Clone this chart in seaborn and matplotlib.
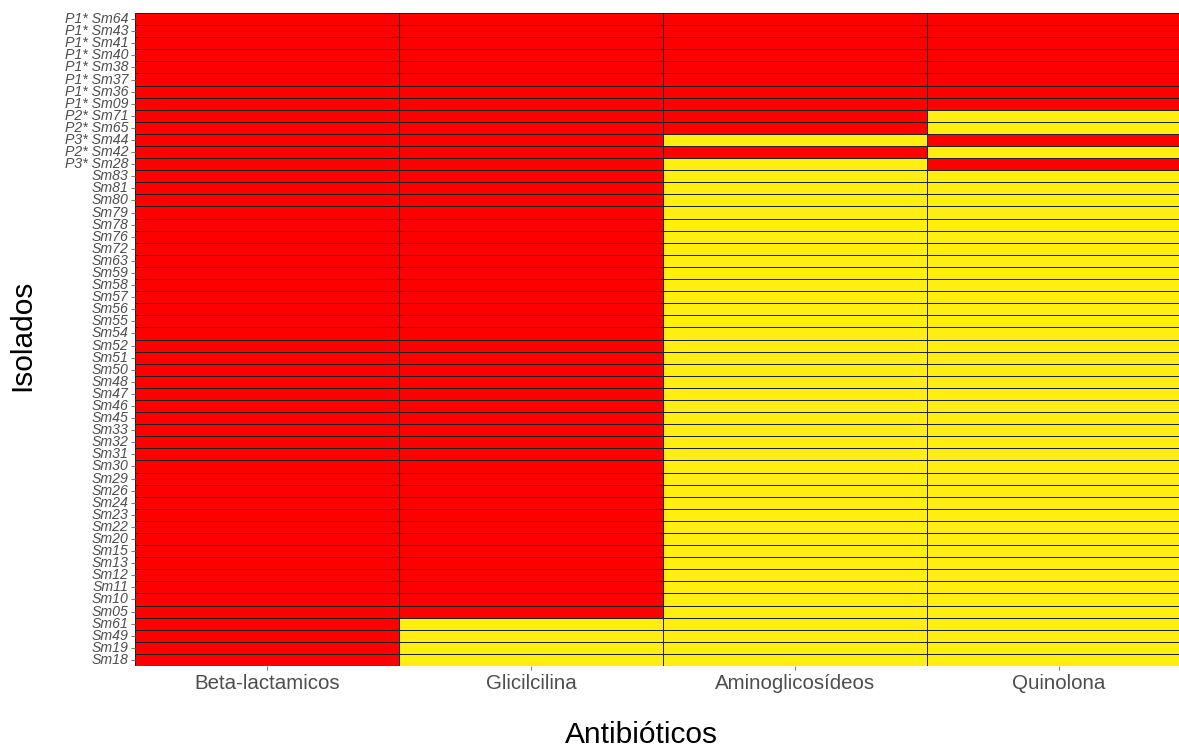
import matplotlib
matplotlib.use("Agg")
import matplotlib.pyplot as plt
import seaborn as sns
import pandas as pd
from matplotlib.colors import ListedColormap

antibioticos = ["Beta-lactamicos", "Glicilcilina", "Aminoglicosídeos", "Quinolona"]

isolados = ["P1* Sm64", "P1* Sm43", "P1* Sm41", "P1* Sm40", "P1* Sm38", "P1* Sm37",
            "P1* Sm36", "P1* Sm09", "P2* Sm71", "P2* Sm65", "P3* Sm44", "P2* Sm42",
            "P3* Sm28", "Sm83", "Sm81", "Sm80", "Sm79", "Sm78", "Sm76", "Sm72", "Sm63",
            "Sm59", "Sm58", "Sm57", "Sm56", "Sm55", "Sm54", "Sm52", "Sm51", "Sm50",
            "Sm48", "Sm47", "Sm46", "Sm45", "Sm33", "Sm32", "Sm31", "Sm30", "Sm29",
            "Sm26", "Sm24", "Sm23", "Sm22", "Sm20", "Sm15", "Sm13", "Sm12", "Sm11",
            "Sm10", "Sm05", "Sm61", "Sm49", "Sm19", "Sm18"]

# 1 = resistente (vermelho), 0 = sensível (amarelo)
beta_lactamicos = [1, 1, 1, 1, 1, 1, 1, 1, 1, 1, 1, 1, 1, 1, 1, 1, 1, 1,
                   1, 1, 1, 1, 1, 1, 1, 1, 1, 1, 1, 1, 1, 1, 1, 1, 1, 1,
                   1, 1, 1, 1, 1, 1, 1, 1, 1, 1, 1, 1, 1, 1, 1, 1, 1, 1]
glicilcilina = [1, 1, 1, 1, 1, 1, 1, 1, 1, 1, 1, 1, 1, 1, 1, 1, 1, 1,
                1, 1, 1, 1, 1, 1, 1, 1, 1, 1, 1, 1, 1, 1, 1, 1, 1, 1,
                1, 1, 1, 1, 1, 1, 1, 1, 1, 1, 1, 1, 1, 1, 0, 0, 0, 0]
aminoglicosideos = [1, 1, 1, 1, 1, 1, 1, 1, 1, 1, 0, 1, 0, 0, 0, 0, 0, 0,
                    0, 0, 0, 0, 0, 0, 0, 0, 0, 0, 0, 0, 0, 0, 0, 0, 0, 0,
                    0, 0, 0, 0, 0, 0, 0, 0, 0, 0, 0, 0, 0, 0, 0, 0, 0, 0]
quinolona = [1, 1, 1, 1, 1, 1, 1, 1, 0, 0, 1, 0, 1, 0, 0, 0, 0, 0,
             0, 0, 0, 0, 0, 0, 0, 0, 0, 0, 0, 0, 0, 0, 0, 0, 0, 0,
             0, 0, 0, 0, 0, 0, 0, 0, 0, 0, 0, 0, 0, 0, 0, 0, 0, 0]

df = pd.DataFrame({
    antibioticos[0]: beta_lactamicos,
    antibioticos[1]: glicilcilina,
    antibioticos[2]: aminoglicosideos,
    antibioticos[3]: quinolona,
}, index=isolados)

plt.rcParams['font.family'] = ['Liberation Sans', 'DejaVu Sans']

fig = plt.figure(figsize=(11.79, 7.48), dpi=100)
W, H = 1179, 748
left, right, top, bottom = 135, 1191, 13, 666
ax = fig.add_axes([left / W, (H - bottom) / H, (right - left) / W, (bottom - top) / H])

cmap = ListedColormap(["#FFEE10", "#FF0000"])
sns.heatmap(df, cmap=cmap, vmin=0, vmax=1, cbar=False, linewidths=0.6,
            linecolor="#222222", xticklabels=True, yticklabels=True, ax=ax)

for s in ax.spines.values():
    s.set_visible(False)

ax.tick_params(axis='both', colors="#7F7F7F", length=3, width=0.8)
ax.set_xticklabels(antibioticos, rotation=0, fontsize=14.8, color="#4D4D4D")
ax.set_yticklabels(isolados, rotation=0, fontsize=10.2, color="#4D4D4D", style='italic')
ax.tick_params(axis='y', pad=1.5)
ax.tick_params(axis='x', pad=3)

ax.set_xlabel("")
ax.set_ylabel("")
fig.text(641 / W, 1 - 735 / H, "Antibióticos", ha='center', va='center', fontsize=21.5, color='black')
fig.text(22 / W, 1 - 335 / H, "Isolados", ha='center', va='center', rotation=90, fontsize=21.5, color='black')

fig.savefig("out.png", dpi=100)
